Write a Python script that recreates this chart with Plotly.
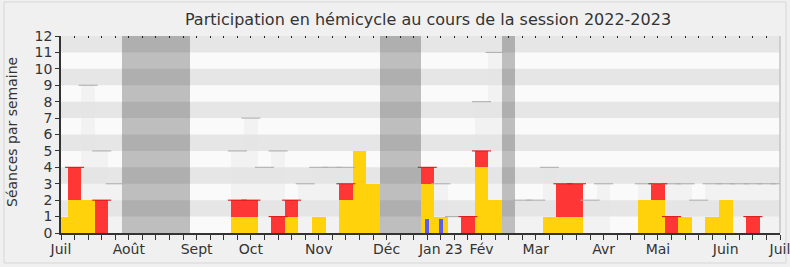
import plotly.graph_objects as go

# ---------------- data ----------------
weeks = list(range(54))
seances = [1, 4, 9, 5, 3, 0, 0, 0, 0, 0,
           0, 0, 0, 5, 7, 4, 5, 2, 3, 4,
           4, 4, 5, 3, 0, 0, 0, 4, 3, 1,
           1, 8, 11, 0, 2, 2, 4, 3, 2, 2,
           3, 0, 0, 3, 3, 3, 3, 2, 3, 3,
           3, 3, 3, 3]
presences = [0, 4, 0, 2, 0, 0, 0, 0, 0, 0,
             0, 0, 0, 2, 2, 0, 1, 2, 0, 0,
             0, 3, 0, 0, 0, 0, 0, 4, 0, 0,
             1, 5, 0, 0, 0, 0, 0, 3, 3, 0,
             0, 0, 0, 0, 3, 1, 0, 0, 0, 0,
             0, 1, 0, 0]
participations = [1, 2, 2, 0, 0, 0, 0, 0, 0, 0,
                  0, 0, 0, 1, 1, 0, 0, 1, 0, 1,
                  0, 2, 5, 3, 0, 0, 0, 3, 1, 0,
                  0, 4, 2, 0, 0, 0, 1, 1, 1, 0,
                  0, 0, 0, 2, 2, 0, 1, 0, 1, 2,
                  0, 0, 0, 0]
questions = [0] * 27 + [0.85, 0.85] + [0] * 25
vacances = [5, 6, 7, 8, 9, 24, 25, 26, 33]
vacances_h = [12] * len(vacances)
month_weeks = [0, 5, 10, 14, 19, 24, 28, 31, 35, 40, 44, 49, 53]
month_labels = ["Juil", "Août", "Sept", "Oct", "Nov", "Déc", "Jan 23", "Fév",
                "Mar", "Avr", "Mai", "Juin", "Juil"]
y_ticks = list(range(13))

FONT = "DejaVu Sans"
TXT = "#333333"

gray_caps = [s if s > max(p, q) and s > 0 else None
             for s, p, q in zip(seances, presences, participations)]
red_caps = [p if p > q and p > 0 else None
            for p, q in zip(presences, participations)]

fig = go.Figure()
fig.add_trace(go.Bar(x=vacances, y=vacances_h, width=1,
                     marker=dict(color="rgba(10,10,10,0.25)", line=dict(width=0)),
                     hoverinfo="skip"))
fig.add_trace(go.Bar(x=weeks, y=seances, width=1,
                     marker=dict(color="rgba(228,228,228,0.32)", line=dict(width=0)),
                     hoverinfo="skip"))
fig.add_trace(go.Bar(x=weeks, y=presences, width=1,
                     marker=dict(color="#ff3636", line=dict(width=0))))
fig.add_trace(go.Bar(x=weeks, y=participations, width=1,
                     marker=dict(color="#ffd20c", line=dict(width=0))))
fig.add_trace(go.Bar(x=weeks, y=questions, width=0.3,
                     marker=dict(color="#5a5af5", line=dict(width=0))))
fig.add_trace(go.Scatter(x=weeks, y=gray_caps, mode="markers",
                         marker=dict(symbol="line-ew", size=13.6,
                                     line=dict(color="#b0b0b0", width=1.1)),
                         hoverinfo="skip"))
fig.add_trace(go.Scatter(x=weeks, y=red_caps, mode="markers",
                         marker=dict(symbol="line-ew", size=13.6,
                                     line=dict(color="#e01818", width=1.1)),
                         hoverinfo="skip"))
# invisible trace for the top tick axis
fig.add_trace(go.Scatter(x=[0], y=[0], xaxis="x2", mode="markers",
                         marker=dict(opacity=0), hoverinfo="skip"))

shapes = []
for k in range(1, 12, 2):
    shapes.append(dict(type="rect", xref="x domain", yref="y",
                       x0=0, x1=1, y0=k, y1=k + 1,
                       fillcolor="#e6e6e6", line=dict(width=0), layer="below"))
# right border of plot area
shapes.append(dict(type="line", xref="x domain", yref="y domain",
                   x0=1, x1=1, y0=0, y1=1,
                   line=dict(color="#c4c4c4", width=1.5)))
# outer frame
W, H = 790, 267
L, R, T, B = 61, 10, 36, 34
pw, ph = W - L - R, H - T - B
def px(x):
    return (x - L) / pw
def py(y):
    return (H - B - y) / ph
shapes.append(dict(type="rect", xref="paper", yref="paper",
                   x0=px(4), x1=px(786), y0=py(263), y1=py(2),
                   line=dict(color="#d6d6d6", width=1), layer="below"))

fig.update_layout(
    width=W, height=H,
    margin=dict(l=L, r=R, t=T, b=B, autoexpand=False),
    paper_bgcolor="#f0f0f0",
    plot_bgcolor="#fafafa",
    barmode="overlay",
    bargap=0,
    showlegend=False,
    font=dict(family=FONT, size=14, color=TXT),
    title=dict(text="Participation en hémicycle au cours de la session 2022-2023",
               x=428 / W, xanchor="center", y=1 - 19 / H, yanchor="middle",
               font=dict(family=FONT, size=16, color=TXT), automargin=False),
    shapes=shapes,
    xaxis=dict(range=[0, 53], tickmode="array", tickvals=month_weeks,
               ticktext=month_labels, ticks="outside", ticklen=5,
               tickcolor=TXT, tickwidth=1, automargin=False,
               ticklabeloverflow="allow", ticklabelstandoff=-3,
               minor=dict(tickmode="array", tickvals=weeks, ticks="outside",
                          ticklen=5, tickcolor=TXT, tickwidth=1),
               showline=True, linecolor=TXT, linewidth=1.5,
               showgrid=False, zeroline=False, fixedrange=True,
               tickfont=dict(family=FONT, size=14, color=TXT)),
    xaxis2=dict(range=[0, 53], overlaying="x", side="top", anchor="y",
                tickmode="array", tickvals=weeks, ticks="inside", ticklen=2,
                tickcolor="#222", showticklabels=False, showline=False,
                showgrid=False, zeroline=False, automargin=False),
    yaxis=dict(range=[0, 12], tickmode="array", tickvals=y_ticks,
               ticks="outside", ticklen=4, tickcolor=TXT, automargin=False,
               showline=True, linecolor=TXT, linewidth=1.5,
               showgrid=False, zeroline=False,
               tickfont=dict(family=FONT, size=14, color=TXT)),
    annotations=[dict(text="Séances par semaine", textangle=-90,
                      xref="paper", yref="paper", x=px(12), y=py(132),
                      xanchor="center", yanchor="middle", showarrow=False,
                      font=dict(family=FONT, size=14, color=TXT))],
)

fig.write_html("out.html")
